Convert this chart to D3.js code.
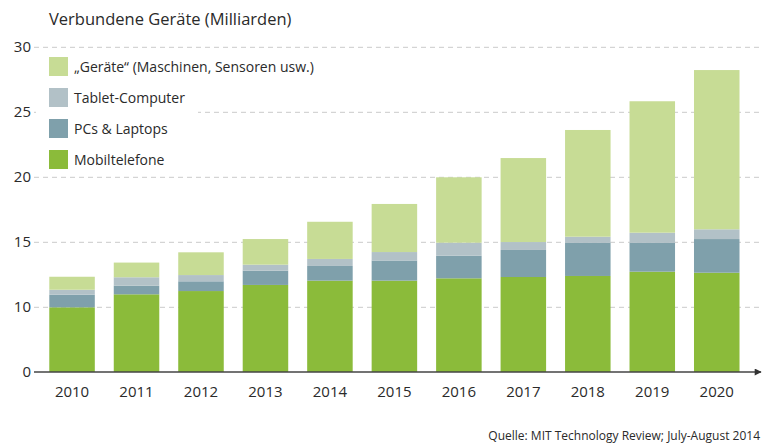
<!DOCTYPE html>
<html>
<head>
<meta charset="utf-8">
<script src="https://cdn.jsdelivr.net/npm/d3@7"></script>
<style>
  body { margin: 0; background: white; }
  svg { font-family: "Open Sans", "Noto Sans", sans-serif; }
</style>
</head>
<body>
<script>
// data (Milliarden)
const years = ["2010", "2011", "2012", "2013", "2014", "2015", "2016", "2017", "2018", "2019", "2020"];
const mobil = [10.0, 11.0, 11.25, 11.72, 12.05, 12.05, 12.23, 12.33, 12.41, 12.74, 12.66];
const pcs = [0.97, 0.66, 0.75, 1.1, 1.13, 1.55, 1.74, 2.08, 2.54, 2.21, 2.59];
const tablets = [0.38, 0.65, 0.48, 0.46, 0.54, 0.65, 1.0, 0.61, 0.48, 0.79, 0.75];
const geraete = [1.0, 1.13, 1.75, 1.97, 2.86, 3.7, 5.03, 6.46, 8.21, 10.11, 12.25];
const yTicks = [0, 10, 15, 20, 25, 30];

const seriesNames = ["Mobiltelefone", "PCs & Laptops", "Tablet-Computer", "\u201EGer\u00E4te\u201C (Maschinen, Sensoren usw.)"];
const seriesColors = ["#8bbb3a", "#7fa0ab", "#b2c1c7", "#c7dc95"];

const width = 762, height = 443;

const svg = d3.select("body").append("svg")
    .attr("width", width)
    .attr("height", height);

// the original axis is compressed between 0 and 10
const y = d3.scaleLinear()
    .domain([0, 10, 30])
    .range([372, 307.3, 47.3]);

const x = d3.scaleBand()
    .domain(years)
    .range([36.4, 752.4])
    .paddingInner(0.294)
    .paddingOuter(0.2);

// gridlines
svg.append("g")
    .selectAll("line")
    .data(yTicks.filter(d => d > 0))
    .join("line")
    .attr("x1", 34)
    .attr("x2", 760)
    .attr("y1", d => y(d))
    .attr("y2", d => y(d))
    .attr("stroke", "#cacaca")
    .attr("stroke-width", 1)
    .attr("stroke-dasharray", "5,4");

// y labels
svg.append("g")
    .selectAll("text")
    .data(yTicks)
    .join("text")
    .attr("x", 31)
    .attr("y", d => y(d) + 5)
    .attr("text-anchor", "end")
    .attr("font-size", 15)
    .attr("fill", "#2a2a2a")
    .text(d => d);

// stacked bars
const rows = years.map((yr, i) => ({
    year: yr, s0: mobil[i], s1: pcs[i], s2: tablets[i], s3: geraete[i]
}));
const stack = d3.stack().keys(["s0", "s1", "s2", "s3"])(rows);

svg.append("g")
    .selectAll("g")
    .data(stack)
    .join("g")
    .attr("fill", (d, i) => seriesColors[i])
    .selectAll("rect")
    .data(d => d)
    .join("rect")
    .attr("x", d => x(d.data.year))
    .attr("width", x.bandwidth())
    .attr("y", d => y(d[1]))
    .attr("height", d => y(d[0]) - y(d[1]));

// x axis with arrow
svg.append("defs").append("marker")
    .attr("id", "arrow")
    .attr("viewBox", "0 0 10 10")
    .attr("refX", 9)
    .attr("refY", 5)
    .attr("markerWidth", 10)
    .attr("markerHeight", 7)
    .attr("markerUnits", "userSpaceOnUse")
    .attr("orient", "auto")
    .append("path")
    .attr("d", "M0,0L10,5L0,10z")
    .attr("fill", "#333");

svg.append("line")
    .attr("x1", 34)
    .attr("x2", 761)
    .attr("y1", y(0))
    .attr("y2", y(0))
    .attr("stroke", "#444")
    .attr("stroke-width", 1.5)
    .attr("marker-end", "url(#arrow)");

svg.append("g")
    .selectAll("text")
    .data(years)
    .join("text")
    .attr("x", d => x(d) + x.bandwidth() / 2)
    .attr("y", 397)
    .attr("text-anchor", "middle")
    .attr("font-size", 15)
    .attr("fill", "#2a2a2a")
    .text(d => d);

// title
svg.append("text")
    .attr("x", 49)
    .attr("y", 25)
    .attr("font-size", 16.5)
    .attr("fill", "#2a2a2a")
    .text("Verbundene Ger\u00E4te (Milliarden)");

// legend (white box hides the gridline behind it)
svg.append("rect")
    .attr("x", 36)
    .attr("y", 52)
    .attr("width", 162)
    .attr("height", 120)
    .attr("fill", "white");

const legendOrder = [3, 2, 1, 0];
const legend = svg.append("g")
    .selectAll("g")
    .data(legendOrder)
    .join("g")
    .attr("transform", (d, i) => `translate(49,${57 + i * 31})`);

legend.append("rect")
    .attr("width", 19)
    .attr("height", 19)
    .attr("fill", d => seriesColors[d]);

legend.append("text")
    .attr("x", 25)
    .attr("y", 15)
    .attr("font-size", 14)
    .attr("fill", "#2a2a2a")
    .text(d => seriesNames[d]);

// source
svg.append("text")
    .attr("x", 760)
    .attr("y", 440)
    .attr("text-anchor", "end")
    .attr("font-size", 12)
    .attr("fill", "#2a2a2a")
    .text("Quelle: MIT Technology Review; July-August 2014");
</script>
</body>
</html>
